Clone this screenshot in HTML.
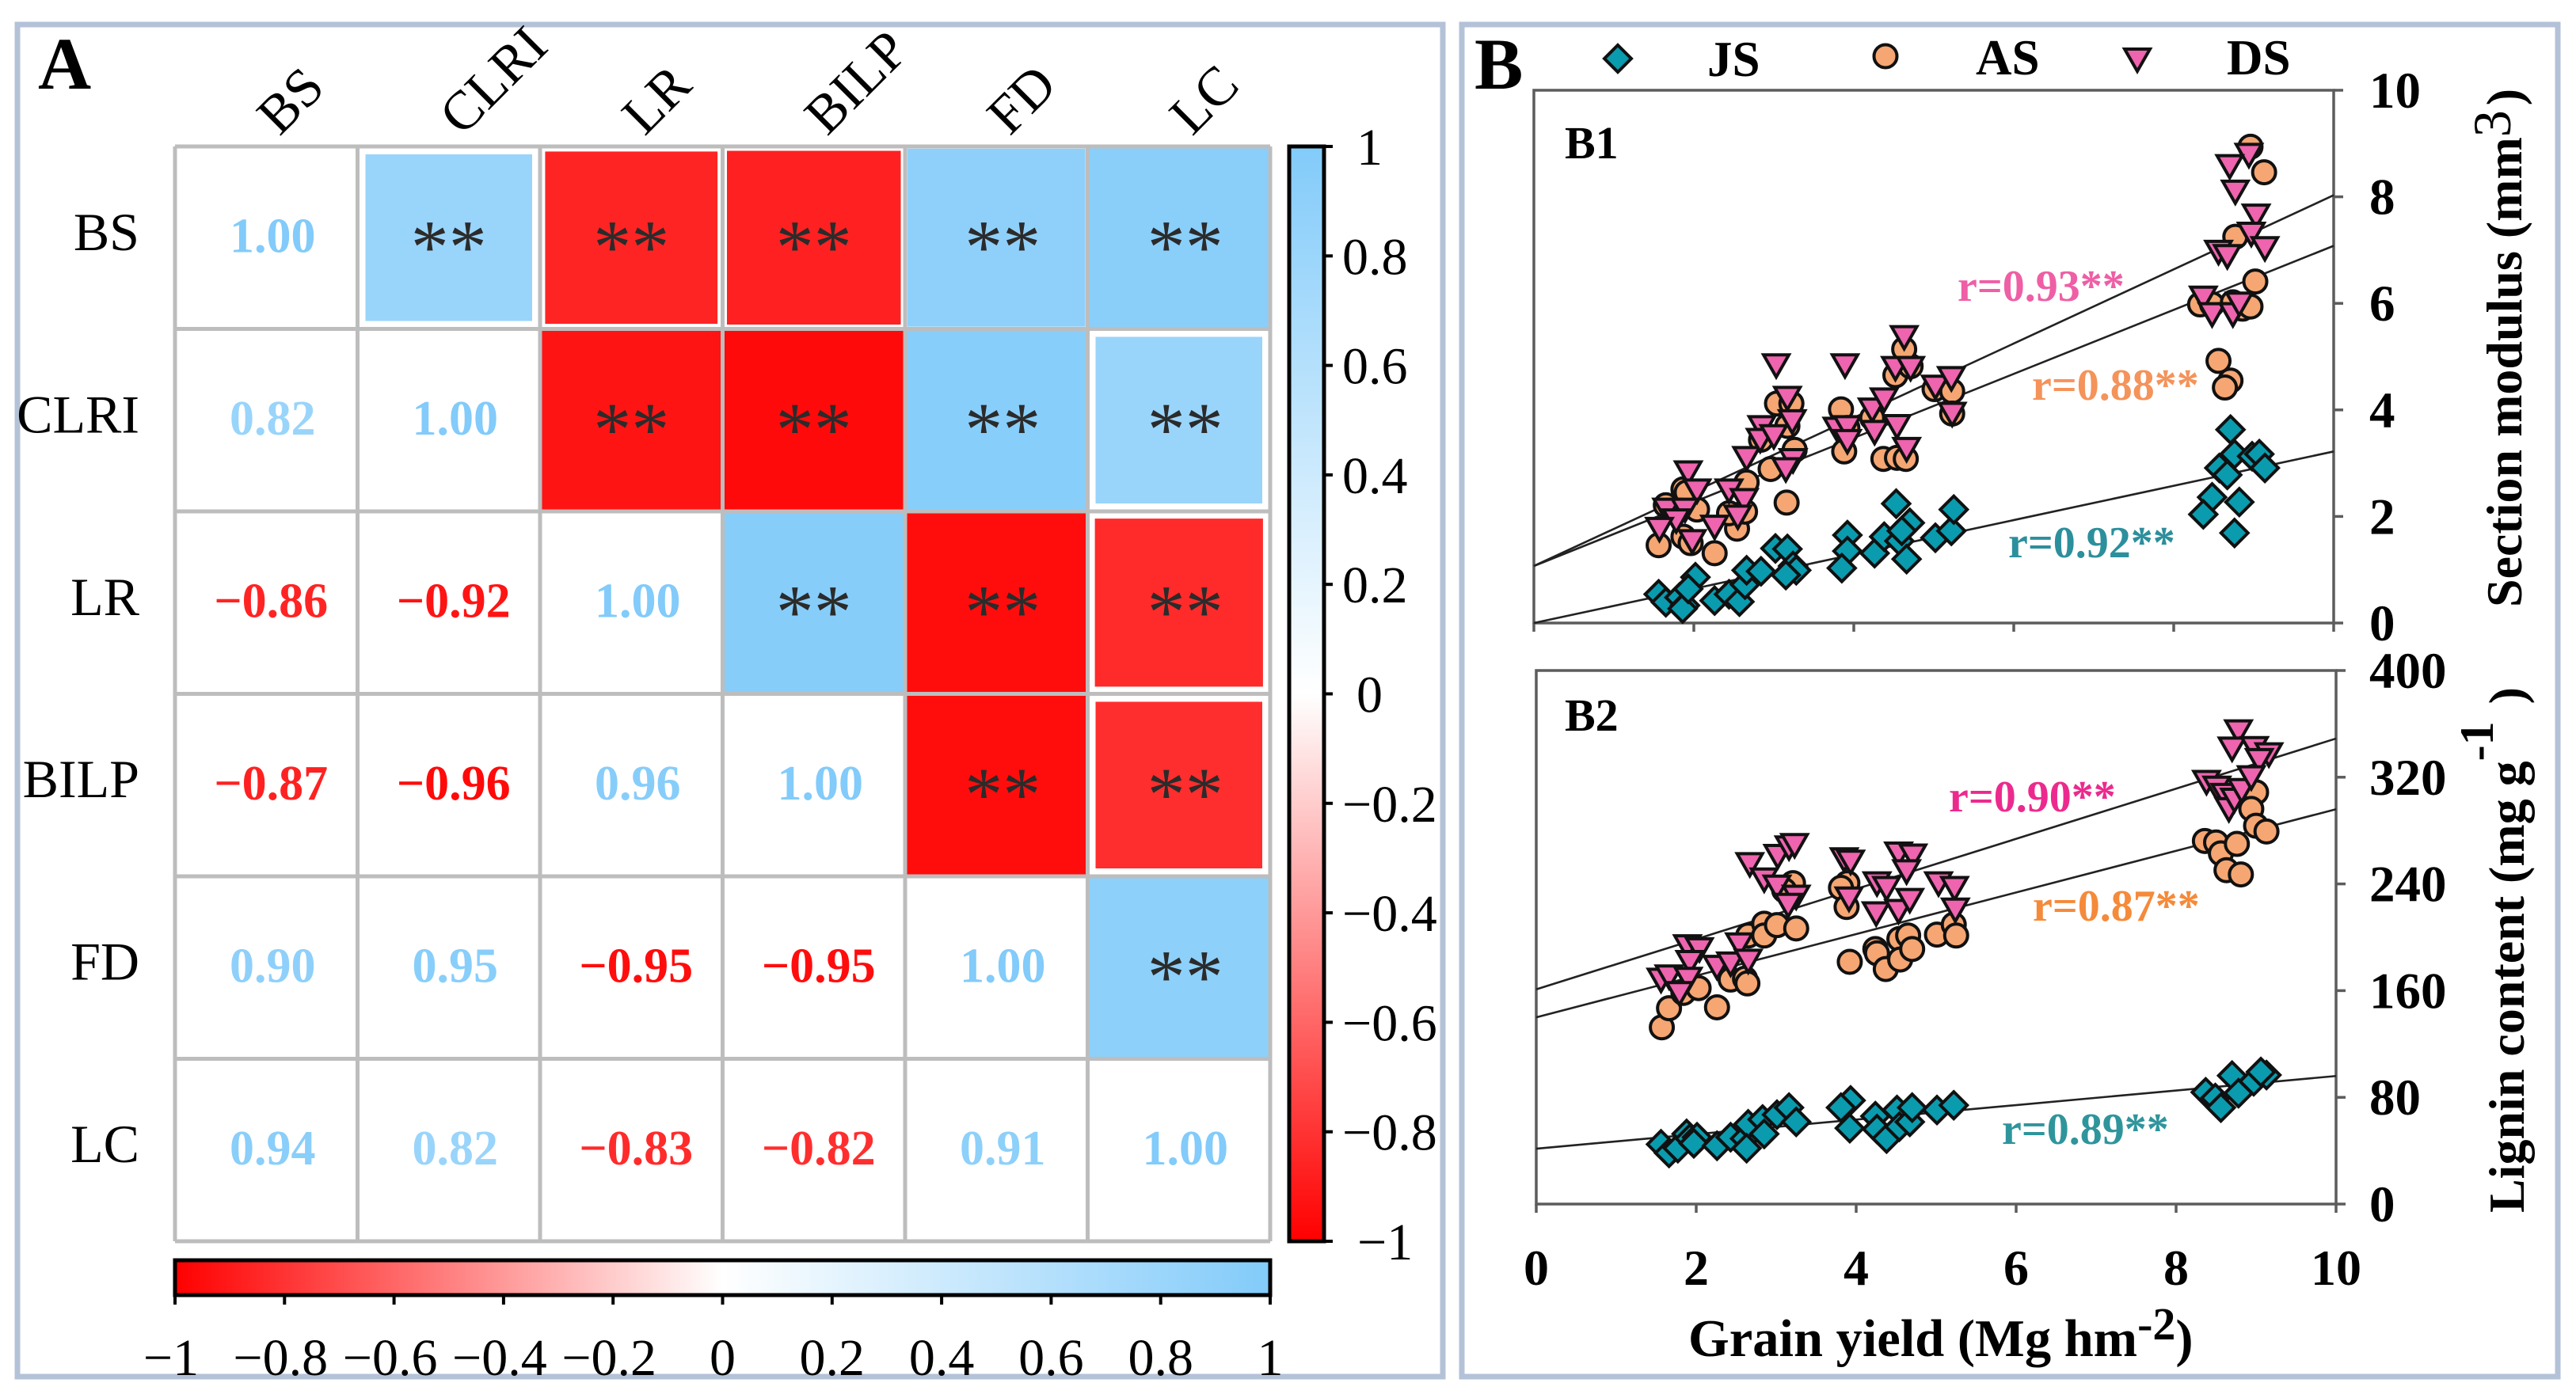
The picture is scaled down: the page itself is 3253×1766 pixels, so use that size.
<!DOCTYPE html>
<html lang="en">
<head>
<meta charset="utf-8">
<title>Correlation matrix and grain yield regressions</title>
<style>
html,body{margin:0;padding:0;background:#fff;}
svg{display:block;}
text{font-family:"Liberation Serif",serif;}
.b{font-weight:bold;}
</style>
</head>
<body>
<svg id="fig" xmlns="http://www.w3.org/2000/svg" width="3253" height="1766" viewBox="0 0 3253 1766">
  <defs>
    <linearGradient id="gradV" x1="0" y1="1" x2="0" y2="0">
      <stop offset="0" stop-color="#ff0000"/><stop offset="0.5" stop-color="#ffffff"/><stop offset="1" stop-color="#82cbfa"/>
    </linearGradient>
    <linearGradient id="gradH" x1="0" y1="0" x2="1" y2="0">
      <stop offset="0" stop-color="#ff0000"/><stop offset="0.5" stop-color="#ffffff"/><stop offset="1" stop-color="#82cbfa"/>
    </linearGradient>
  </defs>
  <rect width="3253" height="1766" fill="#fff"/>
  <rect x="22" y="31" width="1800" height="1708" fill="#fff" stroke="#b4c2d8" stroke-width="7"/>
  <rect x="1846" y="31" width="1384" height="1708" fill="#fff" stroke="#b4c2d8" stroke-width="7"/>
  <text class="b" x="48" y="112" font-size="93">A</text>
  <text class="b" x="1862" y="112" font-size="92">B</text>

  <g id="heatmap"></g>
  <g id="cbarV"></g>
  <g id="cbarH"></g>

  <g>
    <polygon points="2043,57 2060,74 2043,91 2026,74" fill="#0a9bae" stroke="#111" stroke-width="4"/>
    <text class="b" x="2156" y="96" font-size="63">JS</text>
    <circle cx="2381" cy="71" r="14.5" fill="#f5a672" stroke="#111" stroke-width="4"/>
    <text class="b" x="2495" y="94" font-size="63">AS</text>
    <polygon points="2683,62 2715,62 2699,90" fill="#ee64ae" stroke="#111" stroke-width="4"/>
    <text class="b" x="2812" y="94" font-size="63">DS</text>
  </g>

  <g id="plotB1"></g>
  <g id="plotB2"></g>

  <text class="b" x="1976" y="200" font-size="58">B1</text>
  <text class="b" x="1976" y="923" font-size="58">B2</text>

  <text class="b" x="2472" y="380" font-size="56" fill="#ee5fa5">r=0.93**</text>
  <text class="b" x="2566" y="505" font-size="56" fill="#f4935a">r=0.88**</text>
  <text class="b" x="2536" y="704" font-size="56" fill="#2c8f9c">r=0.92**</text>
  <text class="b" x="2461" y="1025" font-size="56" fill="#ec2a8e">r=0.90**</text>
  <text class="b" x="2567" y="1163" font-size="56" fill="#f58a3a">r=0.87**</text>
  <text class="b" x="2528" y="1445" font-size="56" fill="#2f959c">r=0.89**</text>

  <text class="b" x="2132" y="1713" font-size="66.5">Grain yield (Mg hm<tspan font-size="58" dy="-21">-2</tspan><tspan dy="21">)</tspan></text>
  <text class="b" transform="translate(3184,767) rotate(-90)" font-size="64">Section modulus (mm<tspan font-size="68" font-weight="normal" dy="-14">3</tspan><tspan dy="14" dx="6">)</tspan></text>
  <text class="b" transform="translate(3187,1532) rotate(-90)" font-size="64">Lignin content (mg g<tspan font-size="60" dy="-39">-1</tspan><tspan dy="39" dx="22">)</tspan></text>
</svg>

<script>
/* ---------- heatmap data ---------- */
const variables = ['BS','CLRI','LR','BILP','FD','LC'];
const corrBS   = [1.00, 0.82,-0.86,-0.87, 0.90, 0.94];
const corrCLRI = [0.82, 1.00,-0.92,-0.96, 0.95, 0.82];
const corrLR   = [-0.86,-0.92,1.00, 0.96,-0.95,-0.83];
const corrBILP = [-0.87,-0.96,0.96, 1.00,-0.95,-0.82];
const corrFD   = [0.90, 0.95,-0.95,-0.95, 1.00, 0.91];
const corrLC   = [0.94, 0.82,-0.83,-0.82, 0.91, 1.00];
const colorbarTicks = [1,0.8,0.6,0.4,0.2,0,-0.2,-0.4,-0.6,-0.8,-1];

/* ---------- B1 section modulus data ---------- */
const xTicks = [0,2,4,6,8,10];
const b1YTicks = [0,2,4,6,8,10];
const b2YTicks = [0,80,160,240,320,400];

const b1JsX = [1.56,1.65,1.82,1.89,1.86,2.02,1.93,2.26,2.44,2.57,2.64,2.66,2.84,3.02,3.17,3.24,3.28,3.15,3.92,3.92,3.85,4.26,4.38,4.53,4.57,4.70,4.60,4.66,5.02,5.22,5.25,8.71,8.76,8.57,8.67,8.48,8.37,8.82,8.76,8.98,9.07,9.14];
const b1JsY = [0.54,0.39,0.48,0.33,0.27,0.86,0.64,0.42,0.54,0.40,0.72,0.99,0.97,1.40,1.39,1.07,0.99,0.90,1.65,1.35,1.03,1.31,1.62,2.24,1.54,1.88,1.73,1.20,1.60,1.73,2.13,3.63,3.17,2.91,2.78,2.36,2.04,2.27,1.69,3.13,3.17,2.91];
const b1AsX = [1.56,1.65,1.87,1.91,2.04,1.87,1.96,2.26,2.54,2.44,2.64,2.66,2.96,3.26,3.16,3.04,3.22,3.17,2.84,3.84,3.92,3.88,4.23,4.37,4.54,4.65,4.52,4.71,4.63,5.01,5.23,5.23,8.96,9.13,8.77,9.02,8.33,8.48,8.74,8.86,8.96,8.56,8.71,8.64];
const b1AsY = [1.46,2.21,2.51,2.45,2.13,1.62,1.50,1.31,1.77,2.06,2.09,2.64,2.89,3.25,2.26,4.12,4.12,3.70,3.44,4.01,3.66,3.22,3.85,3.08,3.10,3.08,4.65,4.82,5.14,4.39,4.35,3.93,8.94,8.46,7.25,6.41,5.98,5.98,6.02,5.90,5.94,4.92,4.55,4.42];
const b1DsX = [1.93,2.04,1.66,1.89,1.78,1.57,1.98,2.26,2.44,2.63,2.55,2.66,2.85,2.83,3.00,3.24,3.15,3.03,3.17,3.23,3.89,3.79,3.92,3.92,4.23,4.38,4.26,4.54,4.66,4.52,4.71,4.63,5.02,5.22,5.23,8.94,8.70,8.77,9.03,8.97,8.56,8.67,9.14,8.37,8.48,8.74,8.82];
const b1DsY = [2.83,2.49,2.13,2.13,1.93,1.77,1.54,1.81,2.49,2.31,2.00,3.10,3.68,3.44,3.51,3.06,2.89,4.84,4.23,3.79,4.84,3.65,3.68,3.42,4.01,4.20,3.59,3.70,3.27,4.79,4.79,5.37,4.44,4.60,3.93,8.79,8.58,8.10,7.65,7.31,6.97,6.89,7.04,6.11,5.80,5.80,6.00];
const b1JsLine = [0.00,3.22];
const b1AsLine = [1.07,7.08];
const b1DsLine = [1.07,8.03];

/* ---------- B2 lignin content data ---------- */
const b2JsX = [1.56,1.66,1.77,1.88,1.92,2.01,1.97,2.26,2.43,2.61,2.65,2.63,2.83,2.85,3.01,3.16,3.25,3.93,3.81,3.92,4.24,4.26,4.38,4.51,4.54,4.67,4.70,5.01,5.22,8.37,8.49,8.56,8.70,8.78,8.97,9.13,9.06];
const b2JsY = [44.8,38.3,41.9,52.6,49.1,50.1,45.5,43.7,50.1,49.1,59.8,41.9,63.4,52.6,67.0,72.3,61.6,77.7,72.3,56.9,65.9,56.2,49.1,70.5,58.0,61.6,72.3,70.5,74.1,83.8,79.5,72.3,96.3,83.1,92.0,96.7,99.0];
const b2AsX = [1.57,1.66,1.84,2.03,2.26,2.43,2.61,2.64,2.65,2.85,2.85,3.01,3.25,3.21,3.10,3.89,3.81,3.88,3.92,4.24,4.26,4.37,4.54,4.55,4.65,4.70,5.01,5.22,5.25,8.36,8.50,8.56,8.76,8.63,8.81,9.00,8.94,9.00,9.13];
const b2AsY = [132.5,146.8,158.3,161.9,147.5,168.3,169.0,165.4,201.3,210.2,201.3,209.1,206.6,240.6,235.3,240.6,237.1,222.7,181.6,191.2,188.0,176.2,198.7,183.3,201.3,191.2,202.0,209.5,201.3,272.2,271.1,262.9,270.0,250.3,247.1,308.7,296.2,283.6,279.3];
const b2DsX = [1.56,1.66,1.89,2.04,1.92,1.90,1.79,2.26,2.43,2.54,2.65,2.67,2.85,3.01,3.02,3.16,3.23,3.25,3.15,3.85,3.93,3.91,4.26,4.38,4.25,4.53,4.67,4.53,4.71,4.63,5.03,5.23,5.24,8.78,8.70,8.98,9.16,9.04,8.38,8.51,8.61,8.66,8.73,8.82,8.94];
const b2DsY = [168.3,170.8,193.4,191.2,181.6,169.0,158.3,178.0,180.5,194.8,182.6,255.0,243.5,238.1,261.1,267.5,269.3,230.6,224.5,258.6,256.8,229.2,240.6,237.1,218.1,219.9,228.1,262.9,261.4,249.6,240.6,237.1,220.9,354.5,341.6,342.0,337.3,333.0,316.6,312.3,306.9,296.2,303.3,310.5,320.1];
const b2JsLine = [41.5,96];
const b2AsLine = [140,296];
const b2DsLine = [161,349];

/* ---------- helpers ---------- */
const NS = 'http://www.w3.org/2000/svg';
function el(tag, attrs, parent, txt) {
  const n = document.createElementNS(NS, tag);
  for (const k in attrs) n.setAttribute(k, attrs[k]);
  if (txt !== undefined) n.textContent = txt;
  parent.appendChild(n);
  return n;
}
function mix(a, b, t) { return Math.round(a + (b - a) * t); }
function valueColor(v) {
  const t = Math.abs(v);
  return v >= 0
    ? `rgb(${mix(255,130,t)},${mix(255,203,t)},${mix(255,250,t)})`
    : `rgb(255,${mix(255,0,t)},${mix(255,0,t)})`;
}
function fmtMinus(v) { return (v < 0 ? '\u2212' : '') + Math.abs(v).toFixed(2); }
function cbLabel(v) { return (v < 0 ? '\u2212' : '') + String(Math.abs(v)); }

/* ---------- heatmap ---------- */
const matrix = [corrBS, corrCLRI, corrLR, corrBILP, corrFD, corrLC];
const hmLeft = 221, hmTop = 185, hmRight = 1604, hmBottom = 1568;
const cellW = (hmRight - hmLeft) / variables.length;
const cellH = (hmBottom - hmTop) / variables.length;
const hm = document.getElementById('heatmap');

matrix.forEach((row, r) => {
  row.forEach((v, c) => {
    const x = hmLeft + c * cellW, y = hmTop + r * cellH;
    const cx = x + cellW / 2, cy = y + cellH / 2;
    if (c > r) {
      const inset = Math.max(0, 0.92 - Math.abs(v)) * 90 + 1;
      const cell = el('rect', {x: x + inset, y: y + inset, width: cellW - 2 * inset, height: cellH - 2 * inset, fill: valueColor(v)}, hm);
      
      
      const stars = el('text', {x: cx + (c >= 4 ? 8 : 0), y: cy + 44, 'font-size': 96, fill: '#2b2b2b', 'text-anchor': 'middle'}, hm, '**');
      
      
    } else {
      const val = el('text', {x: cx + (v < 0 ? 6 : 8), y: cy + 18, 'font-size': 62, 'font-weight': 'bold', fill: valueColor(v), 'text-anchor': 'middle'}, hm, fmtMinus(v));
      
      
    }
  });
});
for (let i = 0; i <= variables.length; i++) {
  const vl = el('line', {x1: hmLeft + i * cellW, y1: hmTop, x2: hmLeft + i * cellW, y2: hmBottom, stroke: '#bdbdbd', 'stroke-width': 5}, hm);
  
  
  const hl = el('line', {x1: hmLeft, y1: hmTop + i * cellH, x2: hmRight, y2: hmTop + i * cellH, stroke: '#bdbdbd', 'stroke-width': 5}, hm);
  
  
}
variables.forEach((name, i) => {
  const rl = el('text', {x: 176, y: 316 + i * 230.4, 'font-size': 68, 'text-anchor': 'end', fill: '#000'}, hm, name);
  
  
  const bx = hmLeft + 132 + i * cellW;
  const cl = el('text', {x: 0, y: 0, 'font-size': 69, transform: `translate(${bx},173) rotate(-45)`, fill: '#000'}, hm, name);
  
  
});

/* ---------- vertical colorbar ---------- */
const cv = document.getElementById('cbarV');
const cvTop = 185, cvBottom = 1568, cvLeft = 1628, cvRight = 1672;
const cvY = v => cvBottom - (v + 1) / 2 * (cvBottom - cvTop);
const cvBar = el('rect', {x: cvLeft, y: cvTop, width: cvRight - cvLeft, height: cvBottom - cvTop, fill: 'url(#gradV)', stroke: '#000', 'stroke-width': 5}, cv);


colorbarTicks.forEach(v => {
  const tk = el('line', {x1: cvRight, y1: cvY(v), x2: 1683, y2: cvY(v), stroke: '#000', 'stroke-width': 4}, cv);
  
  
  const s = cbLabel(v);
  const lx = s === '1' || s === '0' ? 1713 : (s === '\u22121' ? 1714 : 1695);
  const lb = el('text', {x: lx, y: cvY(v) + 23, 'font-size': 66, fill: '#000'}, cv, s);
  
  
});

/* ---------- horizontal colorbar ---------- */
const ch = document.getElementById('cbarH');
const chLeft = 221, chRight = 1604, chTop = 1592, chBottom = 1636;
const chX = v => chLeft + (v + 1) / 2 * (chRight - chLeft);
const chBar = el('rect', {x: chLeft, y: chTop, width: chRight - chLeft, height: chBottom - chTop, fill: 'url(#gradH)', stroke: '#000', 'stroke-width': 5}, ch);


colorbarTicks.forEach(v => {
  const tk = el('line', {x1: chX(v), y1: chBottom, x2: chX(v), y2: 1648, stroke: '#000', 'stroke-width': 4}, ch);
  
  
  const lb = el('text', {x: chX(v) - (v < 0 ? 5 : 0), y: 1737, 'font-size': 66, fill: '#000', 'text-anchor': 'middle'}, ch, cbLabel(v));
  
  
});

/* ---------- scatter plots ---------- */
function drawPlot(group, box, yMax, yTicks, showX, lines, series) {
  const sx = v => box.l + v / 10 * (box.r - box.l);
  const sy = v => box.b - v / yMax * (box.b - box.t);
  const frame = el('rect', {x: box.l, y: box.t, width: box.r - box.l, height: box.b - box.t, fill: 'none', stroke: '#5c5c5c', 'stroke-width': 3.5}, group);
  
  
  xTicks.forEach(v => {
    const tk = el('line', {x1: sx(v), y1: box.b, x2: sx(v), y2: box.b + 11, stroke: '#5c5c5c', 'stroke-width': 3.5}, group);
    
    
    if (showX) {
      const lb = el('text', {x: sx(v), y: 1623, 'font-size': 64, 'font-weight': 'bold', 'text-anchor': 'middle', fill: '#000'}, group, String(v));
      
      
    }
  });
  yTicks.forEach(v => {
    const tk = el('line', {x1: box.r, y1: sy(v), x2: box.r + 12, y2: sy(v), stroke: '#5c5c5c', 'stroke-width': 3.5}, group);
    
    
    const lb = el('text', {x: 2992, y: sy(v) + 22, 'font-size': 65, 'font-weight': 'bold', fill: '#000'}, group, String(v));
    
    
  });
  lines.forEach(ends => {
    const ln = el('line', {x1: sx(0), y1: sy(ends[0]), x2: sx(10), y2: sy(ends[1]), stroke: '#222', 'stroke-width': 2.6}, group);
    
    
  });
  series.forEach(s => {
    s.xs.forEach((xv, i) => {
      const cx = sx(xv), cy = sy(s.ys[i]);
      let m;
      if (s.kind === 'diamond') {
        m = el('polygon', {points: `${cx},${cy-17} ${cx+17},${cy} ${cx},${cy+17} ${cx-17},${cy}`, fill: '#0a9bae', stroke: '#111', 'stroke-width': 4, 'stroke-linejoin': 'miter'}, group);
      } else if (s.kind === 'circle') {
        m = el('circle', {cx: cx, cy: cy, r: 14.5, fill: '#f5a672', stroke: '#111', 'stroke-width': 4}, group);
      } else {
        m = el('polygon', {points: `${cx-16},${cy-13} ${cx+16},${cy-13} ${cx},${cy+15}`, fill: '#ee64ae', stroke: '#111', 'stroke-width': 4}, group);
      }
      
      
    });
  });
}

drawPlot(document.getElementById('plotB1'), {l:1937, r:2947, t:114, b:787}, 10, b1YTicks, false,
  [b1JsLine, b1AsLine, b1DsLine],
  [{kind:'diamond', name:'js-point', xs:b1JsX, ys:b1JsY},
   {kind:'circle', name:'as-point', xs:b1AsX, ys:b1AsY},
   {kind:'triangle', name:'ds-point', xs:b1DsX, ys:b1DsY}]);

drawPlot(document.getElementById('plotB2'), {l:1940, r:2950, t:847, b:1521}, 400, b2YTicks, true,
  [b2JsLine, b2AsLine, b2DsLine],
  [{kind:'diamond', name:'js-point', xs:b2JsX, ys:b2JsY},
   {kind:'circle', name:'as-point', xs:b2AsX, ys:b2AsY},
   {kind:'triangle', name:'ds-point', xs:b2DsX, ys:b2DsY}]);
</script>
</body>
</html>
